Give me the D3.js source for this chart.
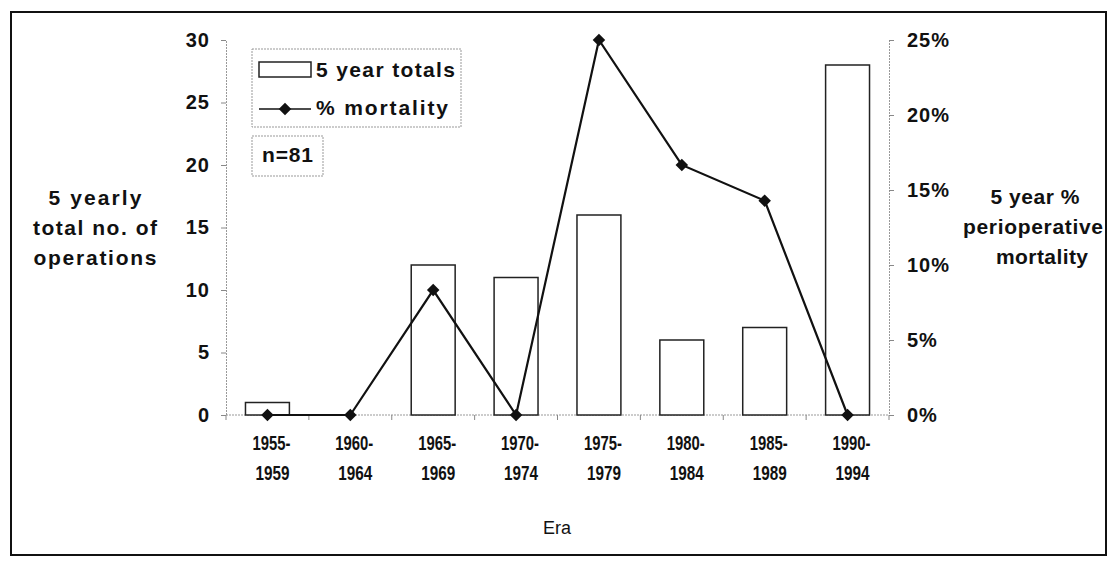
<!DOCTYPE html>
<html><head><meta charset="utf-8">
<script src="https://cdn.jsdelivr.net/npm/d3@7"></script>
<style>
html,body{margin:0;padding:0;background:#fff;}
svg text{font-family:"Liberation Sans",Arial,sans-serif;font-weight:bold;fill:#111;}
</style></head>
<body>
<svg id="c" width="1117" height="567"></svg>
<script>
const eraStart = ["1955-","1960-","1965-","1970-","1975-","1980-","1985-","1990-"];
const eraEnd   = ["1959","1964","1969","1974","1979","1984","1989","1994"];
const totals    = [1, 0, 12, 11, 16, 6, 7, 28];
const mortality = [0, 0, 8.33, 0, 25, 16.67, 14.29, 0];
const leftTicks  = [0, 5, 10, 15, 20, 25, 30];
const rightTicks = [0, 5, 10, 15, 20, 25];

const svg = d3.select("#c");
const L = 226, R = 889, T = 40, B = 415;

svg.append("rect").attr("x", 11).attr("y", 12).attr("width", 1095).attr("height", 543)
  .attr("fill", "none").attr("stroke", "#111").attr("stroke-width", 2);

const x = d3.scaleBand().domain(d3.range(8)).range([L, R]).paddingInner(0.47).paddingOuter(0.235);
const xb = d3.scaleBand().domain(d3.range(8)).range([L, R]);
const yL = d3.scaleLinear().domain([0, 30]).range([B, T]);
const yR = d3.scaleLinear().domain([0, 25]).range([B, T]);

// axes
const axL = svg.append("g").attr("transform", `translate(${L},0)`)
  .call(d3.axisLeft(yL).tickValues(leftTicks).tickSize(5).tickPadding(11));
const axR = svg.append("g").attr("transform", `translate(${R},0)`)
  .call(d3.axisRight(yR).tickValues(rightTicks).tickSize(5).tickPadding(13).tickFormat(d => d + "%"));
[axL, axR].forEach(a => {
  a.select(".domain").attr("stroke", "#999").attr("stroke-dasharray", "2,1");
  a.selectAll(".tick line").attr("stroke", "#888");
  a.selectAll("text").attr("font-size", 20).attr("letter-spacing", "1")
    .attr("font-family", "Liberation Sans, Arial, sans-serif").attr("font-weight", "bold").attr("fill", "#111");
});

// x axis line with ticks at band boundaries
svg.append("line").attr("x1", L).attr("x2", R).attr("y1", B).attr("y2", B)
  .attr("stroke", "#999").attr("stroke-dasharray", "2,1");
svg.selectAll(".xt").data(d3.range(9)).join("line")
  .attr("x1", i => L + i * xb.step()).attr("x2", i => L + i * xb.step())
  .attr("y1", B).attr("y2", B + 5).attr("stroke", "#888");

// x labels (condensed)
const xl = svg.append("g");
xl.selectAll(".l1").data(eraStart).join("text")
  .attr("x", (d, i) => xb(i) + xb.bandwidth() / 2 + 4 - 19).attr("y", 450)
  .attr("font-size", 21).attr("textLength", 38).attr("lengthAdjust", "spacingAndGlyphs")
  .text(d => d);
xl.selectAll(".l2").data(eraEnd).join("text")
  .attr("x", (d, i) => xb(i) + xb.bandwidth() / 2 + 5 - 17).attr("y", 480)
  .attr("font-size", 21).attr("textLength", 34).attr("lengthAdjust", "spacingAndGlyphs")
  .text(d => d);

// bars
svg.selectAll(".bar").data(totals).join("rect")
  .attr("x", (d, i) => x(i)).attr("width", x.bandwidth())
  .attr("y", d => yL(d)).attr("height", d => B - yL(d))
  .attr("fill", "#fff").attr("stroke", "#222").attr("stroke-width", 1.5);

// line
const line = d3.line().x((d, i) => xb(i) + xb.bandwidth() / 2).y(d => yR(d));
svg.append("path").datum(mortality).attr("d", line)
  .attr("fill", "none").attr("stroke", "#111").attr("stroke-width", 2.2);
svg.selectAll(".pt").data(mortality).join("path")
  .attr("d", d3.symbol().type(d3.symbolDiamond2).size(100))
  .attr("transform", (d, i) => `translate(${xb(i) + xb.bandwidth() / 2},${yR(d)})`)
  .attr("fill", "#111");

// legend
const lg = svg.append("g");
lg.append("rect").attr("x", 252).attr("y", 49).attr("width", 209).attr("height", 78)
  .attr("fill", "#fff").attr("stroke", "#999").attr("stroke-dasharray", "2,1");
lg.append("rect").attr("x", 259).attr("y", 62).attr("width", 52).attr("height", 15)
  .attr("fill", "#fff").attr("stroke", "#222").attr("stroke-width", 1.5);
lg.append("text").attr("x", 316).attr("y", 77).attr("font-size", 21)
  .attr("textLength", 139).text("5 year totals");
lg.append("line").attr("x1", 259).attr("x2", 311).attr("y1", 109).attr("y2", 109)
  .attr("stroke", "#111").attr("stroke-width", 1.5);
lg.append("path").attr("d", d3.symbol().type(d3.symbolDiamond2).size(100))
  .attr("transform", "translate(285,109)").attr("fill", "#111");
lg.append("text").attr("x", 316).attr("y", 115).attr("font-size", 21)
  .attr("textLength", 132).text("% mortality");

lg.append("rect").attr("x", 252).attr("y", 136).attr("width", 71).attr("height", 40)
  .attr("fill", "#fff").attr("stroke", "#999").attr("stroke-dasharray", "2,1");
lg.append("text").attr("x", 262).attr("y", 162).attr("font-size", 21)
  .attr("textLength", 51).text("n=81");

// axis titles
const lt = ["5 yearly", "total no. of", "operations"];
const ltW = [93, 124, 123];
svg.selectAll(".lt").data(lt).join("text")
  .attr("x", (d, i) => 95 - ltW[i] / 2).attr("y", (d, i) => 205 + i * 30)
  .attr("textLength", (d, i) => ltW[i])
  .attr("font-size", 21).text(d => d);
const rt = ["5 year %", "perioperative", "mortality"];
const rtW = [89, 140, 92];
const rtC = [1035, 1033, 1042];
svg.selectAll(".rt").data(rt).join("text")
  .attr("x", (d, i) => rtC[i] - rtW[i] / 2).attr("y", (d, i) => 204 + i * 30)
  .attr("textLength", (d, i) => rtW[i])
  .attr("font-size", 21).text(d => d);

svg.append("text").attr("x", 557).attr("y", 534).attr("text-anchor", "middle")
  .attr("font-size", 18).style("font-weight", "normal").text("Era");
</script>
</body></html>
